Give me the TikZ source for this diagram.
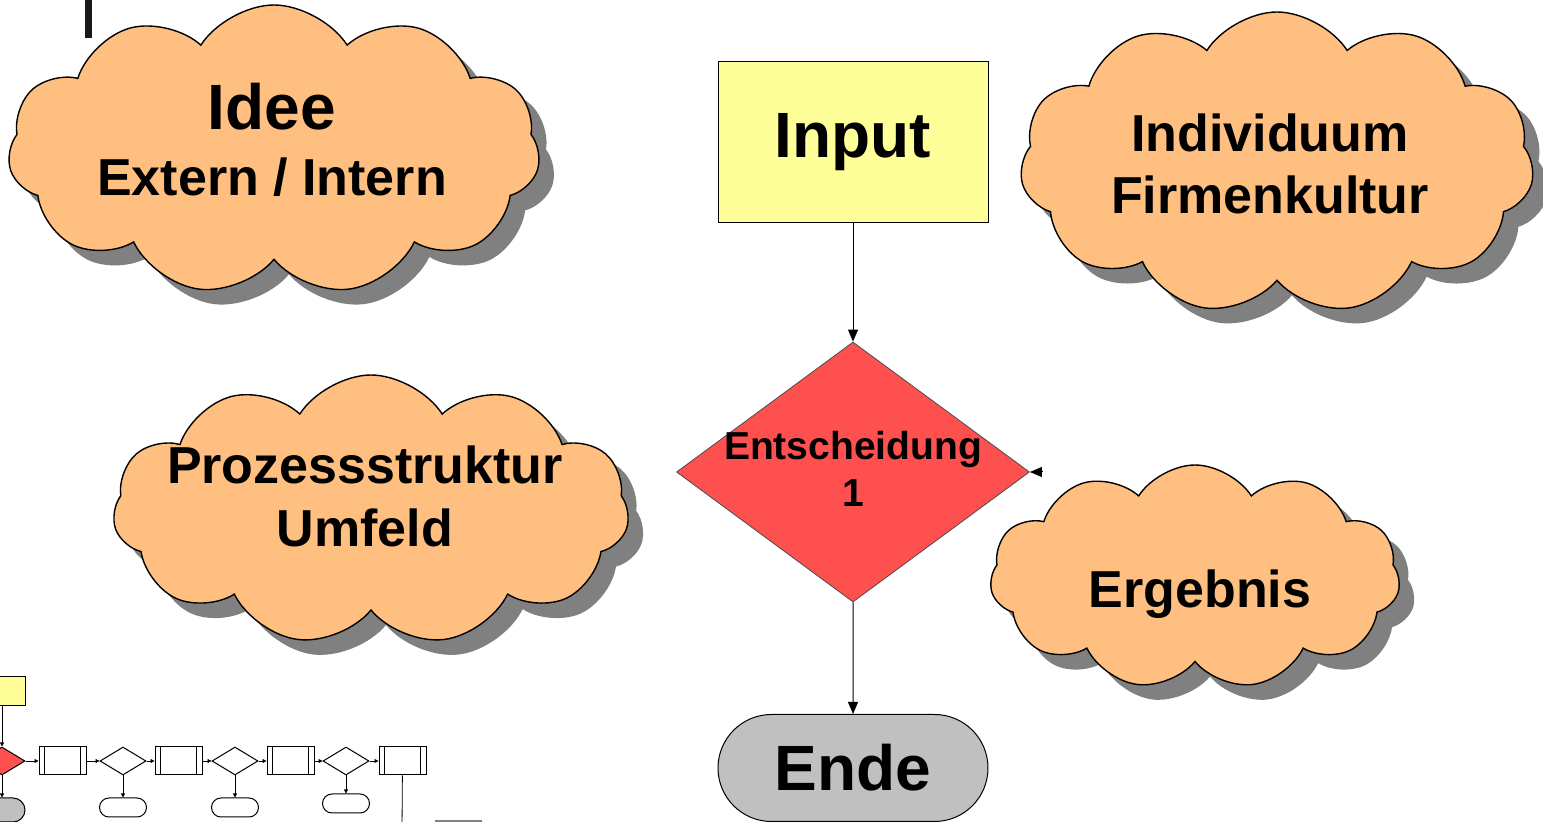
\documentclass[tikz,border=0pt]{standalone}
\usepackage{fontspec}
\setmainfont{Liberation Sans}
\usetikzlibrary{shapes.geometric,shapes.symbols,shapes.misc,shadows,arrows.meta}

\definecolor{cloudfill}{HTML}{FFBF80}
\definecolor{shadowgray}{HTML}{808080}
\definecolor{inputfill}{HTML}{FFFF99}
\definecolor{decfill}{HTML}{FF5050}
\definecolor{endfill}{HTML}{C0C0C0}

\begin{document}
\begin{tikzpicture}[x=0.5pt,y=-0.5pt,
    cloudbox/.style={cloud, cloud puffs=11, cloud puff arc=115, draw=black,
        line width=0.7pt, fill=cloudfill, inner sep=0pt,
        drop shadow={shadow xshift=7.5pt, shadow yshift=-7.5pt, fill=shadowgray, opacity=1}},
    bigtxt/.style={font=\fontsize{32}{38}\selectfont\bfseries, inner sep=0pt, anchor=base},
    cloudtxt/.style={font=\fontsize{26}{31}\selectfont\bfseries, inner sep=0pt, anchor=base},
    dectxt/.style={font=\fontsize{19.5}{24}\selectfont\bfseries, inner sep=0pt, anchor=base},
    flow/.style={-{Triangle[length=6pt,width=5pt]}, line width=0.5pt},
    minibox/.style={rectangle, draw, line width=0.5pt, fill=white, minimum width=23.5pt, minimum height=14pt, inner sep=0pt},
    minidec/.style={diamond, draw, line width=0.5pt, fill=white, minimum width=23pt, minimum height=14pt, inner sep=0pt},
    miniterm/.style={rounded rectangle, draw, line width=0.5pt, fill=white, minimum width=23.5pt, minimum height=9.5pt, inner sep=0pt},
    miniflow/.style={-{Triangle[length=2pt,width=2pt]}, line width=0.4pt}]

    % page frame
    \useasboundingbox (0,0) rectangle (1543,822);

    % small bar top left
    \fill[black!90] (85,0) rectangle (92,38);

    % clouds
    \node[cloudbox, minimum width=266pt, minimum height=145pt] (idee) at (274,150) {};
    \node[cloudbox, minimum width=257pt, minimum height=151pt] (indiv) at (1277,163) {};
    \node[cloudbox, minimum width=258pt, minimum height=135pt] (proz) at (371,510) {};
    \node[cloudbox, minimum width=205pt, minimum height=112pt] (erg) at (1195,577) {};

    % cloud texts
    \node[bigtxt] (ideeA) at (272,130) {Idee};
    \node[cloudtxt] (ideeB) at (272,196) {Extern / Intern};
    \node[cloudtxt] (indivA) at (1270,152) {Individuum};
    \node[cloudtxt] (indivB) at (1270,214) {Firmenkultur};
    \node[cloudtxt] (prozA) at (365,484) {Prozessstruktur};
    \node[cloudtxt] (prozB) at (365,547) {Umfeld};
    \node[cloudtxt] (ergA) at (1200,608) {Ergebnis};

    % main flow
    \node[rectangle, draw, line width=0.5pt, fill=inputfill, minimum width=135pt, minimum height=80.5pt,
        font=\fontsize{32}{38}\selectfont\bfseries] (input) at (853,142.5) {Input};
    \node[diamond, draw=black!70, line width=0.4pt, fill=decfill, minimum width=176.5pt, minimum height=130pt,
        inner sep=0pt] (dec) at (853,472) {};
    \node[dectxt] (decA) at (853,460) {Entscheidung};
    \node[dectxt] (decB) at (853,507) {1};
    \node[rounded rectangle, draw, line width=0.5pt, fill=endfill, minimum width=135pt, minimum height=53.5pt,
        text width=110pt, align=center, inner xsep=0pt,
        font=\fontsize{32}{38}\selectfont\bfseries] (ende) at (853,768) {Ende};

    \draw[flow] (input) -- (dec);
    \draw[flow] (dec) -- (ende);
    \coordinate (back) at (1043,472);
    \draw[flow] (back) -- (dec.east);

    % mini flowchart bottom left
    \node[rectangle, draw, line width=0.5pt, fill=inputfill, minimum width=23pt, minimum height=14.5pt] (mrect) at (2,691.5) {};
    \node[diamond, draw, line width=0.5pt, fill=decfill, minimum width=23pt, minimum height=14pt, inner sep=0pt] (mdec) at (2,761) {};
    \node[rounded rectangle, draw, line width=0.5pt, fill=endfill, minimum width=23pt, minimum height=12pt, inner sep=0pt] (mterm) at (2,810) {};
    \draw[miniflow] (mrect) -- (mdec);
    \draw[miniflow] (mdec) -- (mterm);

    \foreach \i/\x in {1/62.5,2/178.5,3/290.5,4/402.5} {
        \node[minibox] (mb\i) at (\x,761) {};
        \draw[line width=0.4pt] ([xshift=3pt]mb\i.north west) -- ([xshift=3pt]mb\i.south west);
        \draw[line width=0.4pt] ([xshift=-3pt]mb\i.north east) -- ([xshift=-3pt]mb\i.south east);
    }
    \foreach \i/\x/\y in {1/123/807.5,2/235/807.5,3/346/803.5} {
        \node[minidec] (md\i) at (\x,761) {};
        \node[miniterm] (mt\i) at (\x,\y) {};
        \draw[miniflow] (md\i) -- (mt\i);
    }
    \foreach \a/\b in {mdec/mb1,mb1/md1,md1/mb2,mb2/md2,md2/mb3,mb3/md3,md3/mb4}
        \draw[miniflow] (\a) -- (\b);

    \coordinate (mout) at (402,830);
    \draw[line width=0.4pt] (mb4) -- (mout);
    \coordinate (g1) at (435,821);
    \coordinate (g2) at (482,821);
    \draw[gray, line width=0.8pt] (g1) -- (g2);

\end{tikzpicture}
\end{document}
